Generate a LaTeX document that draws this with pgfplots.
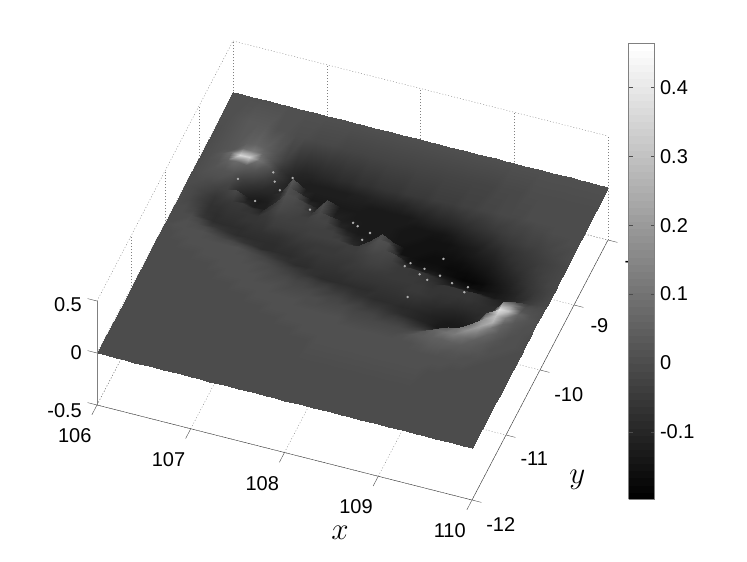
\documentclass[border=0pt]{standalone}
\usepackage{fontspec}
\setmainfont{Liberation Sans}
\usepackage{pgfplots}
\pgfplotsset{compat=1.18}
\newcommand{\ticksize}{\fontsize{20}{22}\selectfont}
\begin{document}
\begin{tikzpicture}
\begin{axis}[
  x={(93.75pt,-23.75pt)}, y={(34pt,65pt)}, z={(0pt,104pt)},
  xmin=106, xmax=110, ymin=-12, ymax=-8, zmin=-0.5, zmax=0.5,
  clip=false,
  xtick={106,107,108,109,110}, ytick={-12,-11,-10,-9,-8}, ztick={-0.5,0,0.5},
  grid=major, grid style={dash pattern=on 1pt off 2pt, gray, thin},
  tick style={draw=none}, major tick length=10pt, tick align=outside,
  axis line style={draw=none},
  tick label style={font=\ticksize},
  xticklabel style={xshift=-14pt, yshift=-7pt},
  yticklabel style={xshift=5pt, yshift=-4pt},
  zticklabel style={xshift=-7pt, yshift=13pt},
  /pgf/number format/assume math mode=true,
  /pgf/number format/fixed,
  xlabel={$x$}, ylabel={$y$},
  xlabel style={font=\Huge, scale=1.25, at={(axis cs:108.4,-12,-0.5)}, anchor=center, xshift=14.4pt, yshift=-57pt, rotate=0},
  ylabel style={font=\Huge, scale=1.25, at={(axis cs:110,-11,-0.5)}, anchor=center, xshift=57pt, yshift=-36pt, rotate=0},
  colormap/blackwhite,
  point meta min=-0.197, point meta max=0.464,
  colorbar sampled,
  colorbar style={
    samples=65,
    at={(parent axis.south west)}, anchor=south west,
    xshift=523pt, yshift=1pt,
    width=26pt, height=456pt,
    ytick={-0.1,0,0.1,0.2,0.3,0.4},
    ytick pos=both, yticklabel pos=right, tick align=inside,
    major tick length=4pt,
    axis line style={draw=gray},
    tick style={draw=black!70},
    yticklabel style={font=\ticksize, xshift=2pt, /pgf/number format/assume math mode=true, /pgf/number format/fixed},
  },
]
\addplot3[surf, shader=interp, mesh/cols=41, point meta=\thisrowno{0}]
  table[row sep=\\, header=false,
    x expr={106+0.1*mod(\coordindex,41)},
    y expr={-8-0.35*min(floor(\coordindex/41),2)-0.1*max(min(floor(\coordindex/41)-2,24),0)-0.3*max(floor(\coordindex/41)-26,0)},
    z expr={min(\thisrowno{0},0.06)}] {
.01\\.01\\.01\\.01\\.01\\.01\\.01\\.01\\.01\\.01\\ .01\\.01\\.01\\.01\\.01\\.01\\.01\\.01\\.01\\.01\\ .01\\.01\\.01\\.01\\.01\\.01\\.01\\.01\\.01\\.01\\ .01\\.01\\.01\\.01\\.01\\.01\\.01\\.01\\.01\\.01\\ .01\\
.01\\.01\\.02\\.03\\.03\\.03\\.01\\.01\\0\\0\\ -.01\\-.01\\-.01\\-.02\\-.02\\-.02\\-.02\\-.02\\-.02\\-.02\\ -.02\\-.02\\-.02\\-.02\\-.02\\-.02\\-.02\\-.02\\-.02\\-.02\\ -.01\\-.01\\-.01\\0\\0\\0\\0\\0\\0\\0\\ 0\\
0\\.01\\.02\\.03\\.05\\.06\\.05\\.02\\-.03\\-.08\\ -.1\\-.1\\-.09\\-.09\\-.08\\-.08\\-.07\\-.07\\-.06\\-.06\\ -.06\\-.05\\-.05\\-.05\\-.04\\-.04\\-.04\\-.03\\-.03\\-.02\\ -.02\\-.01\\-.01\\-.01\\0\\0\\0\\0\\0\\0\\ 0\\
0\\.01\\.02\\.03\\.08\\.12\\.07\\.02\\-.06\\-.1\\ -.11\\-.12\\-.12\\-.12\\-.12\\-.12\\-.11\\-.11\\-.1\\-.1\\ -.1\\-.1\\-.09\\-.08\\-.08\\-.07\\-.07\\-.06\\-.05\\-.05\\ -.04\\-.03\\-.03\\-.02\\-.02\\-.01\\-.01\\0\\0\\0\\ 0\\
0\\.01\\.03\\.08\\.36\\.34\\.1\\.03\\-.05\\-.1\\ -.12\\-.12\\-.12\\-.12\\-.12\\-.12\\-.12\\-.12\\-.13\\-.13\\ -.13\\-.13\\-.13\\-.12\\-.11\\-.1\\-.1\\-.09\\-.08\\-.07\\ -.06\\-.05\\-.04\\-.03\\-.03\\-.02\\-.02\\-.01\\-.01\\0\\ 0\\
0\\.01\\.02\\.05\\.08\\.05\\.02\\-.04\\-.08\\-.1\\ .03\\-.1\\-.13\\-.13\\-.13\\-.13\\-.13\\-.13\\-.13\\-.13\\ -.13\\-.13\\-.13\\-.14\\-.14\\-.14\\-.14\\-.13\\-.11\\-.1\\ -.09\\-.08\\-.06\\-.05\\-.04\\-.03\\-.03\\-.02\\-.01\\-.01\\ 0\\
0\\.01\\.02\\.02\\.02\\-.03\\-.07\\-.09\\-.1\\-.08\\ .01\\-.02\\-.1\\-.12\\-.02\\-.12\\-.12\\-.13\\-.13\\-.13\\ -.13\\-.13\\-.14\\-.14\\-.14\\-.15\\-.15\\-.15\\-.14\\-.13\\ -.12\\-.1\\-.09\\-.07\\-.06\\-.05\\-.04\\-.03\\-.02\\-.01\\ 0\\
0\\.01\\.01\\.01\\-.02\\-.09\\-.12\\-.13\\-.12\\-.08\\ .01\\0\\-.03\\-.09\\0\\-.11\\-.12\\-.12\\-.13\\-.13\\ -.13\\-.13\\-.14\\-.14\\-.15\\-.15\\-.15\\-.15\\-.15\\-.14\\ -.13\\-.12\\-.11\\-.09\\-.07\\-.06\\-.05\\-.04\\-.03\\-.02\\ -.01\\
0\\0\\-.01\\-.03\\-.03\\-.01\\-.1\\-.12\\-.12\\-.05\\ 0\\-.01\\-.02\\-.05\\-.01\\-.03\\-.1\\-.12\\-.13\\-.13\\ -.13\\-.13\\-.14\\-.15\\-.15\\-.15\\-.16\\-.16\\-.16\\-.16\\ -.15\\-.14\\-.13\\-.11\\-.09\\-.07\\-.06\\-.04\\-.03\\-.02\\ -.01\\
0\\-.01\\-.03\\-.06\\-.05\\-.05\\-.05\\-.07\\-.09\\-.04\\ -.01\\-.02\\-.03\\-.03\\-.02\\-.02\\-.05\\-.09\\-.11\\-.12\\ -.11\\0\\-.06\\-.15\\-.15\\-.16\\-.16\\-.16\\-.17\\-.17\\ -.17\\-.16\\-.15\\-.13\\-.11\\-.09\\-.07\\-.05\\-.03\\-.02\\ -.01\\
0\\-.01\\-.04\\-.07\\-.07\\-.06\\-.06\\-.06\\-.06\\-.05\\ -.03\\-.03\\-.03\\-.03\\-.03\\-.03\\-.03\\-.05\\-.09\\-.11\\ -.03\\.01\\0\\-.1\\-.14\\-.15\\-.15\\-.15\\-.16\\-.17\\ -.18\\-.18\\-.17\\-.15\\-.13\\-.11\\-.08\\-.06\\-.04\\-.02\\ -.01\\
0\\-.01\\-.03\\-.07\\-.08\\-.07\\-.07\\-.06\\-.06\\-.06\\ -.04\\-.04\\-.04\\-.04\\-.03\\-.03\\-.03\\-.03\\-.04\\-.04\\ -.02\\0\\-.01\\-.02\\-.09\\-.11\\-.12\\-.12\\-.13\\-.14\\ -.15\\-.16\\-.16\\-.15\\-.14\\-.12\\-.1\\-.07\\-.05\\-.03\\ -.01\\
0\\0\\-.02\\-.06\\-.08\\-.08\\-.08\\-.08\\-.07\\-.07\\ -.07\\-.07\\-.06\\-.05\\-.05\\-.05\\-.05\\-.05\\-.04\\-.04\\ -.03\\-.02\\-.02\\-.03\\-.05\\-.05\\-.06\\-.07\\-.09\\-.11\\ -.12\\-.12\\-.13\\-.13\\-.13\\-.12\\-.1\\-.08\\-.05\\-.03\\ -.01\\
0\\0\\0\\-.02\\-.05\\-.06\\-.07\\-.08\\-.08\\-.08\\ -.08\\-.08\\-.07\\-.07\\-.06\\-.05\\-.05\\-.05\\-.05\\-.05\\ -.04\\-.03\\-.03\\-.04\\-.05\\-.05\\-.05\\-.06\\-.07\\-.06\\ -.06\\-.06\\-.06\\-.07\\-.09\\-.1\\-.09\\-.06\\-.04\\-.02\\ -.01\\
0\\0\\.01\\0\\-.01\\-.03\\-.04\\-.05\\-.06\\-.07\\ -.08\\-.08\\-.08\\-.08\\-.07\\-.07\\-.06\\-.06\\-.06\\-.05\\ -.05\\-.05\\-.05\\-.05\\-.05\\-.05\\-.05\\-.05\\-.06\\-.06\\ -.06\\-.06\\-.06\\-.07\\-.08\\-.08\\-.05\\.02\\0\\0\\ 0\\
0\\.01\\.01\\.01\\.01\\0\\-.01\\-.01\\-.02\\-.03\\ -.04\\-.05\\-.06\\-.07\\-.08\\-.08\\-.07\\-.07\\-.07\\-.07\\ -.06\\-.06\\-.06\\-.06\\-.06\\-.06\\-.05\\-.05\\-.06\\-.07\\ -.07\\-.08\\-.08\\-.08\\-.08\\-.05\\.14\\.14\\.02\\.01\\ 0\\
0\\0\\.01\\.01\\.01\\.01\\.01\\.01\\.01\\0\\ -.01\\-.02\\-.03\\-.04\\-.05\\-.06\\-.07\\-.08\\-.08\\-.08\\ -.08\\-.08\\-.08\\-.07\\-.07\\-.07\\-.07\\-.07\\-.08\\-.09\\ -.1\\-.11\\-.11\\-.1\\-.08\\-.02\\.38\\.3\\.06\\.02\\ .01\\
0\\0\\0\\.01\\.01\\.01\\.01\\.01\\.01\\.01\\ 0\\0\\-.01\\-.02\\-.03\\-.04\\-.04\\-.05\\-.05\\-.06\\ -.06\\-.07\\-.07\\-.08\\-.08\\-.08\\-.09\\-.09\\-.1\\-.11\\ -.12\\-.13\\-.13\\-.12\\-.08\\.06\\.3\\.12\\.03\\.01\\ .01\\
0\\0\\0\\0\\0\\.01\\.01\\.01\\.01\\.01\\ .01\\0\\0\\-.01\\-.01\\-.02\\-.02\\-.03\\-.03\\-.04\\ -.04\\-.05\\-.05\\-.06\\-.06\\-.07\\-.08\\-.09\\-.1\\-.11\\ -.13\\-.13\\-.12\\-.1\\-.03\\.19\\.26\\.06\\.02\\.01\\ 0\\
0\\0\\0\\0\\0\\0\\0\\.01\\.01\\.01\\ .01\\.01\\0\\0\\0\\-.01\\-.01\\-.01\\-.02\\-.02\\ -.02\\-.03\\-.03\\-.04\\-.04\\-.05\\-.05\\-.06\\-.07\\-.08\\ -.09\\-.08\\-.05\\-.02\\.1\\.22\\.12\\.04\\.01\\.01\\ 0\\
0\\0\\0\\0\\0\\0\\0\\0\\.01\\.01\\ .01\\.01\\.01\\.01\\0\\0\\0\\0\\0\\-.01\\ -.01\\-.01\\-.02\\-.02\\-.02\\-.03\\-.03\\-.03\\-.04\\-.04\\ -.03\\.01\\.04\\.1\\.18\\.14\\.06\\.02\\.01\\.01\\ 0\\
0\\0\\0\\0\\0\\0\\0\\0\\0\\0\\ .01\\.01\\.01\\.01\\.01\\.01\\.01\\0\\0\\0\\ 0\\0\\-.01\\-.01\\-.01\\-.01\\-.01\\-.01\\-.01\\0\\ .03\\.06\\.1\\.12\\.09\\.05\\.03\\.01\\.01\\0\\ 0\\
0\\0\\0\\0\\0\\0\\0\\0\\0\\0\\ 0\\0\\.01\\.01\\.01\\.01\\.01\\.01\\.01\\.01\\ .01\\.01\\0\\0\\0\\0\\0\\0\\.01\\.03\\ .04\\.05\\.05\\.05\\.04\\.03\\.02\\.01\\0\\0\\ 0\\
0\\0\\0\\0\\0\\0\\0\\0\\0\\0\\ 0\\0\\0\\0\\.01\\.01\\.01\\.01\\.01\\.01\\ .01\\.01\\.01\\.01\\.01\\.01\\.01\\.01\\.01\\.01\\ .02\\.03\\.03\\.02\\.02\\.01\\.01\\0\\0\\0\\ 0\\
0\\0\\0\\0\\0\\0\\0\\0\\0\\0\\ 0\\0\\0\\0\\0\\0\\.01\\.01\\.01\\.01\\ .01\\.01\\.01\\.01\\.01\\.01\\.01\\.01\\.01\\.01\\ .01\\.01\\.01\\.01\\.01\\.01\\0\\0\\0\\0\\ 0\\
0\\0\\0\\0\\0\\0\\0\\0\\0\\0\\ 0\\0\\0\\0\\0\\0\\0\\0\\.01\\.01\\ .01\\.01\\.01\\.01\\.01\\.01\\.01\\.01\\.01\\.01\\ .01\\.01\\.01\\.01\\0\\0\\0\\0\\0\\0\\ 0\\
0\\0\\0\\0\\0\\0\\0\\0\\0\\0\\ 0\\0\\0\\0\\0\\0\\0\\0\\0\\0\\ .01\\.01\\.01\\.01\\.01\\.01\\.01\\.01\\.01\\.01\\ .01\\.01\\0\\0\\0\\0\\0\\0\\0\\0\\ 0\\
0\\0\\0\\0\\0\\0\\0\\0\\0\\0\\ 0\\0\\0\\0\\0\\0\\0\\0\\0\\0\\ 0\\0\\0\\0\\0\\0\\0\\0\\0\\0\\ 0\\0\\0\\0\\0\\0\\0\\0\\0\\0\\ 0\\
0\\0\\0\\0\\0\\0\\0\\0\\0\\0\\ 0\\0\\0\\0\\0\\0\\0\\0\\0\\0\\ 0\\0\\0\\0\\0\\0\\0\\0\\0\\0\\ 0\\0\\0\\0\\0\\0\\0\\0\\0\\0\\ 0\\
0\\0\\0\\0\\0\\0\\0\\0\\0\\0\\ 0\\0\\0\\0\\0\\0\\0\\0\\0\\0\\ 0\\0\\0\\0\\0\\0\\0\\0\\0\\0\\ 0\\0\\0\\0\\0\\0\\0\\0\\0\\0\\ 0\\
};
\addplot3[only marks, mark=*, mark size=1pt, color=white!70!black, mark options={draw=none}] coordinates {
(106.47,-9.15,0) (106.77,-8.94,0) (106.98,-8.95,0) (106.83,-9.06,0) (106.92,-9.16,0) (106.74,-9.39,0)
(107.3,-9.32,0) (107.77,-9.35,0) (107.83,-9.38,0) (107.98,-9.43,0) (108.8,-9.53,0) (108.67,-9.73,0)
(108.65,-9.82,0) (108.75,-9.87,0) (108.65,-10.17,0) (109.17,-9.83,0) (109.16,-9.91,0) (109,-9.83,0)
(108.85,-9.77,0) (108.47,-9.76,0) (108.51,-9.7,0) (107.94,-9.55,0)
};
\draw[black!75, thin] (axis cs:106,-12,-0.5) -- (axis cs:110,-12,-0.5) -- (axis cs:110,-8,-0.5);
\draw[gray, thin] (axis cs:106,-12,-0.5) -- (axis cs:106,-12,0.5);
\draw[black!70, thin]
  (axis cs:106,-12,-0.5) -- (axis cs:106,-12.15,-0.5)
  (axis cs:107,-12,-0.5) -- (axis cs:107,-12.15,-0.5)
  (axis cs:108,-12,-0.5) -- (axis cs:108,-12.15,-0.5)
  (axis cs:109,-12,-0.5) -- (axis cs:109,-12.15,-0.5)
  (axis cs:110,-12,-0.5) -- (axis cs:110,-12.15,-0.5)
  (axis cs:110,-12,-0.5) -- (axis cs:110.1,-12,-0.5)
  (axis cs:110,-11,-0.5) -- (axis cs:110.1,-11,-0.5)
  (axis cs:110,-10,-0.5) -- (axis cs:110.1,-10,-0.5)
  (axis cs:110,-9,-0.5) -- (axis cs:110.1,-9,-0.5)
  (axis cs:110,-8,-0.5) -- (axis cs:110.1,-8,-0.5)
  (axis cs:106,-12,-0.5) -- (axis cs:105.9,-12,-0.5)
  (axis cs:106,-12,0) -- (axis cs:105.9,-12,0)
  (axis cs:106,-12,0.5) -- (axis cs:105.9,-12,0.5);
\coordinate (c) at (axis cs:106,-12,0);
\end{axis}
\pgfresetboundingbox
\path[use as bounding box] ([shift={(-97pt,-209pt)}]c) rectangle ([shift={(650pt,353pt)}]c);
\end{tikzpicture}
\end{document}
